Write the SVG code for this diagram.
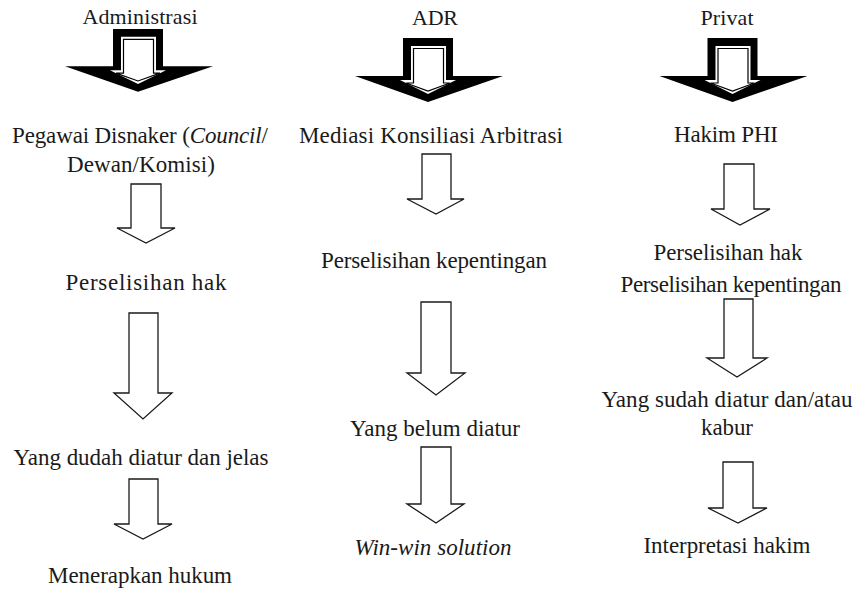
<svg xmlns="http://www.w3.org/2000/svg" width="855" height="591" viewBox="0 0 855 591">
<style>
text{font-family:"Liberation Serif","Times New Roman",serif;font-size:23px;fill:#1a1a1a;text-anchor:middle}
.hd{font-size:22px}
.it{font-style:italic}
.hollow{fill:#fff;stroke:#1a1a1a;stroke-width:1.3;stroke-linejoin:miter}
.outer{fill:#000}
.gap{fill:#fff}
.thin{fill:#fff;stroke:#000;stroke-width:1.2}
</style>
<defs>
<g id="big">
<polygon class="outer" points="-25,0 25,0 25,38 75,38 0,64 -73,38 -25,38"/>
<polygon class="gap" points="-17,8 18,8 18,42 28,42 0,56 -28,42 -17,42"/>
<polygon class="thin" points="-14.5,10.5 15.5,10.5 15.5,45 22,45 0,53 -22,45 -14.5,45"/>
</g>
</defs>
<g id="labels">
<g id="h-admin"><text class="hd" x="140" y="24" textLength="115" lengthAdjust="spacing">Administrasi</text></g>
<g id="h-adr"><text class="hd" x="435" y="25" textLength="46" lengthAdjust="spacing">ADR</text></g>
<g id="h-privat"><text class="hd" x="727" y="25" textLength="53" lengthAdjust="spacing">Privat</text></g>
<g id="n-pegawai"><text x="140" y="143" textLength="256" lengthAdjust="spacing">Pegawai Disnaker (<tspan class="it">Council</tspan>/</text><text x="141" y="172" textLength="148" lengthAdjust="spacing">Dewan/Komisi)</text></g>
<g id="n-hak1"><text x="146" y="290" textLength="161" lengthAdjust="spacing">Perselisihan hak</text></g>
<g id="n-dudah"><text x="141" y="465" textLength="255" lengthAdjust="spacing">Yang dudah diatur dan jelas</text></g>
<g id="n-menerapkan"><text x="140" y="583" textLength="184" lengthAdjust="spacing">Menerapkan hukum</text></g>
<g id="n-mediasi"><text x="431" y="143" textLength="264" lengthAdjust="spacing">Mediasi Konsiliasi Arbitrasi</text></g>
<g id="n-kepentingan2"><text x="434" y="268" textLength="226" lengthAdjust="spacing">Perselisihan kepentingan</text></g>
<g id="n-belum"><text x="435" y="436" textLength="170" lengthAdjust="spacing">Yang belum diatur</text></g>
<g id="n-winwin"><text class="it" x="433" y="555" textLength="157" lengthAdjust="spacing">Win-win solution</text></g>
<g id="n-hakim"><text x="726" y="142" textLength="104" lengthAdjust="spacing">Hakim PHI</text></g>
<g id="n-hak3"><text x="728" y="260" textLength="149" lengthAdjust="spacing">Perselisihan hak</text><text x="731" y="292" textLength="221" lengthAdjust="spacing">Perselisihan kepentingan</text></g>
<g id="n-sudah"><text x="727" y="407" textLength="251" lengthAdjust="spacing">Yang sudah diatur dan/atau</text><text x="727" y="435" textLength="52" lengthAdjust="spacing">kabur</text></g>
<g id="n-interpretasi"><text x="727" y="553" textLength="167" lengthAdjust="spacing">Interpretasi hakim</text></g>
</g>
<g id="connectors">
<use href="#big" transform="translate(138,29) scale(1,0.98)"/>
<use href="#big" transform="translate(428,38)"/>
<use href="#big" transform="translate(732.5,38)"/>
<polygon class="hollow" points="131,184 161,184 161,228 175,228 146,243 117,228 131,228"/>
<polygon class="hollow" points="129,313 158,313 158,393 172,393 143,419 114,393 129,393"/>
<polygon class="hollow" points="129,479 158,479 158,524 172,524 143,539 114,524 129,524"/>
<polygon class="hollow" points="422,154 451,154 451,199 464,199 436,214 407,199 422,199"/>
<polygon class="hollow" points="421,302 451,302 451,373 465,373 436,395 407,373 421,373"/>
<polygon class="hollow" points="421,447 451,447 451,504 464,504 436,523 407,504 421,504"/>
<polygon class="hollow" points="724,164 754,164 754,209 770,209 740,225 711,209 724,209"/>
<polygon class="hollow" points="724,299 753,299 753,358 767,358 737,377 707,358 724,358"/>
<polygon class="hollow" points="723,462 753,462 753,508 767,508 738,523 708,508 723,508"/>
</g>
</svg>
